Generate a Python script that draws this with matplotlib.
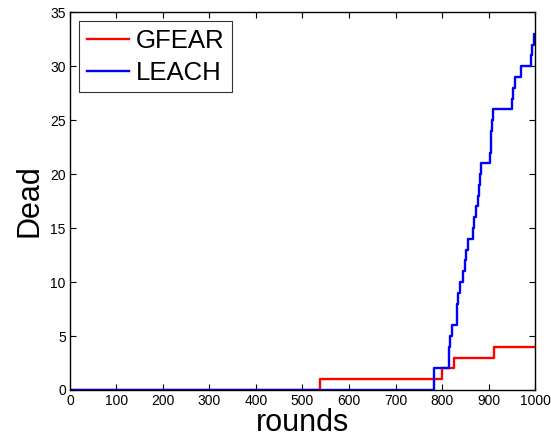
import matplotlib
matplotlib.use("Agg")
import matplotlib.pyplot as plt

plt.rcParams['font.family'] = ['Liberation Sans', 'DejaVu Sans']

gfear_rounds = [0, 537, 799, 825, 912, 1000]
gfear_dead = [0, 1, 2, 3, 4, 4]

leach_rounds = [0, 782, 783, 814, 816, 818, 821, 832, 833, 835, 838, 846, 849, 852, 856,
                866, 869, 874, 878, 880, 882, 884, 904, 905, 906, 908, 909, 951, 953, 957,
                970, 991, 993, 997, 1000]
leach_dead = [0, 1, 2, 3, 4, 5, 6, 7, 8, 9, 10, 11, 12, 13, 14,
              15, 16, 17, 18, 19, 20, 21, 22, 23, 24, 25, 26, 27, 28, 29,
              30, 31, 32, 33, 33]

xticks = list(range(0, 1001, 100))
yticks = list(range(0, 36, 5))

fig = plt.figure(figsize=(5.51, 4.46), dpi=100)
ax = fig.add_axes([0.127, 0.1256, 0.844, 0.847])
ax.plot(gfear_rounds, gfear_dead, color='#ff0000', lw=1.7, drawstyle='steps-post', label='GFEAR')
ax.plot(leach_rounds, leach_dead, color='#0000ff', lw=1.7, drawstyle='steps-post', label='LEACH')
ax.set_xlim(0, 1000)
ax.set_ylim(0, 35)
ax.set_xticks(xticks)
ax.set_yticks(yticks)
ax.tick_params(direction='in', top=True, right=True, labelsize=10, length=4, width=0.8, pad=3)
for s in ax.spines.values():
    s.set_linewidth(1.0)
ax.set_xlabel('rounds', fontsize=22, labelpad=0)
ax.set_ylabel('Dead', fontsize=22, labelpad=4)
leg = ax.legend(loc='upper left', fontsize=18.5, frameon=True, fancybox=False, edgecolor='black',
                handlelength=1.65, handletextpad=0.25, borderpad=0.3, labelspacing=0.3,
                borderaxespad=0.35)
leg.get_frame().set_linewidth(0.8)
fig.savefig('out.png', dpi=100)
